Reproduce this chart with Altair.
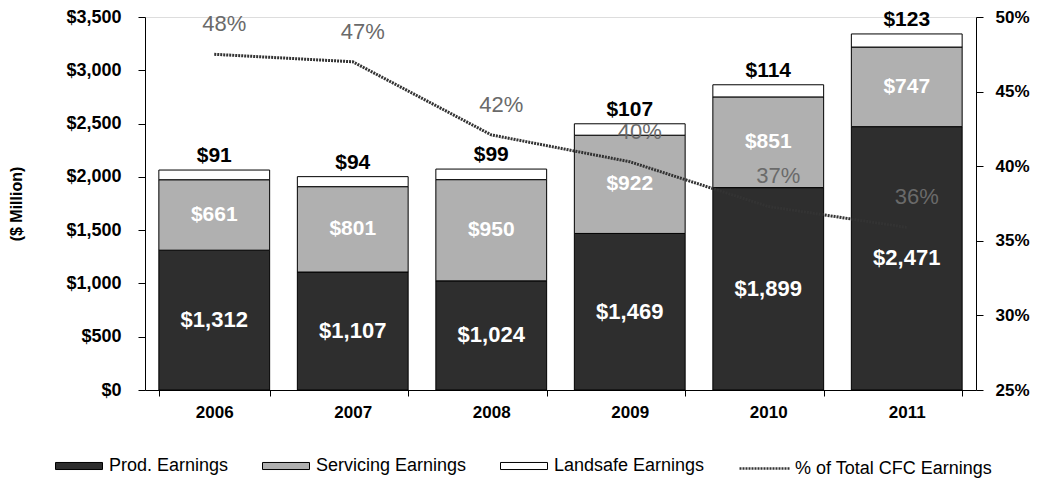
import altair as alt
import pandas as pd

years = ["2006", "2007", "2008", "2009", "2010", "2011"]
prod = [1312, 1107, 1024, 1469, 1899, 2471]
servicing = [661, 801, 950, 922, 851, 747]
landsafe = [91, 94, 99, 107, 114, 123]
pct_total = [47.5, 47.0, 42.1, 40.3, 37.3, 35.9]
pct_labels = ["48%", "47%", "42%", "40%", "37%", "36%"]

series_names = ["Prod. Earnings", "Servicing Earnings", "Landsafe Earnings"]
line_name = "% of Total CFC Earnings"

rows = []
for i, y in enumerate(years):
    for k, (name, vals) in enumerate(zip(series_names, [prod, servicing, landsafe])):
        rows.append({"year": y, "series": name, "value": vals[i], "order": k})
bars_df = pd.DataFrame(rows)

lab_df = pd.DataFrame({
    "year": years,
    "prod_mid": [p / 2 for p in prod],
    "serv_mid": [p + s / 2 for p, s in zip(prod, servicing)],
    "total": [p + s + l for p, s, l in zip(prod, servicing, landsafe)],
    "prod_txt": [f"${v:,}" for v in prod],
    "serv_txt": [f"${v:,}" for v in servicing],
    "land_txt": [f"${v:,}" for v in landsafe],
})

line_df = pd.DataFrame({"year": years, "pct": pct_total, "lab": pct_labels, "s": [line_name] * len(years)})

FONT = "Liberation Sans"

x_enc = alt.X("year:N", sort=years, title=None,
              scale=alt.Scale(paddingInner=0.2, paddingOuter=0.1),
              axis=alt.Axis(labelAngle=0, labelFontWeight="bold", labelFontSize=17,
                            labelPadding=8, tickBand="extent", tickSize=6,
                            domainColor="#000", tickColor="#000", labelColor="#000"))

y_scale = alt.Scale(domain=[0, 3500], nice=False)
y_axis = alt.Axis(title="($ Million)", titleFontSize=16, titleFontWeight="bold",
                  titlePadding=41, format="$,.0f", values=list(range(0, 3501, 500)),
                  labelFontSize=18, labelFontWeight="bold", labelColor="#000",
                  tickSize=7, labelPadding=17, grid=False,
                  domainColor="#000", tickColor="#000")

bars = alt.Chart(bars_df).mark_bar(stroke="#000", strokeWidth=1).encode(
    x=x_enc,
    y=alt.Y("value:Q", stack="zero", scale=y_scale, axis=y_axis),
    fill=alt.Fill("series:N", sort=series_names,
                  scale=alt.Scale(domain=series_names, range=["#2e2e2e", "#b0b0b0", "#ffffff"]),
                  legend=alt.Legend(title=None, orient="none", legendX=-90, legendY=425,
                                    direction="horizontal",
                                    symbolType="M-1,-0.15H1V0.15H-1Z", symbolSize=2209,
                                    symbolStrokeColor="#000", symbolStrokeWidth=1,
                                    labelFontSize=18, labelFont=FONT, labelColor="#000",
                                    labelLimit=300, columnPadding=31, labelOffset=6)),
    order=alt.Order("order:Q"),
)

prod_lab = alt.Chart(lab_df).mark_text(color="#fff", fontWeight="bold", fontSize=22, font=FONT).encode(
    x=alt.X("year:N", sort=years), y=alt.Y("prod_mid:Q", scale=y_scale), text="prod_txt:N")
serv_lab = alt.Chart(lab_df).mark_text(color="#fff", fontWeight="bold", fontSize=21, font=FONT).encode(
    x=alt.X("year:N", sort=years), y=alt.Y("serv_mid:Q", scale=y_scale), text="serv_txt:N")
land_lab = alt.Chart(lab_df).mark_text(color="#000", fontWeight="bold", fontSize=21, font=FONT,
                                       baseline="bottom", dy=-4).encode(
    x=alt.X("year:N", sort=years), y=alt.Y("total:Q", scale=y_scale), text="land_txt:N")

left = alt.layer(bars, prod_lab, serv_lab, land_lab)

p_scale = alt.Scale(domain=[25, 50], nice=False)
line = alt.Chart(line_df).mark_line(strokeWidth=3, strokeDash=[2, 1]).encode(
    x=alt.X("year:N", sort=years),
    y=alt.Y("pct:Q", scale=p_scale,
            axis=alt.Axis(orient="right", title=None, values=[25, 30, 35, 40, 45, 50],
                          labelExpr="datum.value + '%'", labelFontSize=17, labelFontWeight="bold",
                          labelColor="#000", tickSize=7, labelPadding=12, grid=False,
                          domainColor="#000", tickColor="#000")),
    stroke=alt.Stroke("s:N", scale=alt.Scale(domain=[line_name], range=["#333333"]),
                      legend=alt.Legend(title=None, orient="none", legendX=593, legendY=425,
                                        symbolType="stroke", symbolSize=2500,
                                        symbolStrokeWidth=2.5, symbolDash=[2, 1],
                                        labelFontSize=18, labelFont=FONT, labelColor="#000",
                                        labelLimit=300, labelOffset=4)),
)
line_lab = alt.Chart(line_df).mark_text(color="#6a6a6a", fontSize=22, font=FONT, dx=10, dy=-30).encode(
    x=alt.X("year:N", sort=years), y=alt.Y("pct:Q", scale=p_scale), text="lab:N")

right = alt.layer(line, line_lab)

chart = alt.layer(left, right).resolve_scale(y="independent", fill="independent", stroke="independent").properties(
    width=831, height=373, padding={"left": 0, "top": 0, "right": 0, "bottom": 0}
).configure_view(stroke=None).configure(font=FONT)

chart.save("out.html", embed_options={"renderer": "svg", "actions": False})
